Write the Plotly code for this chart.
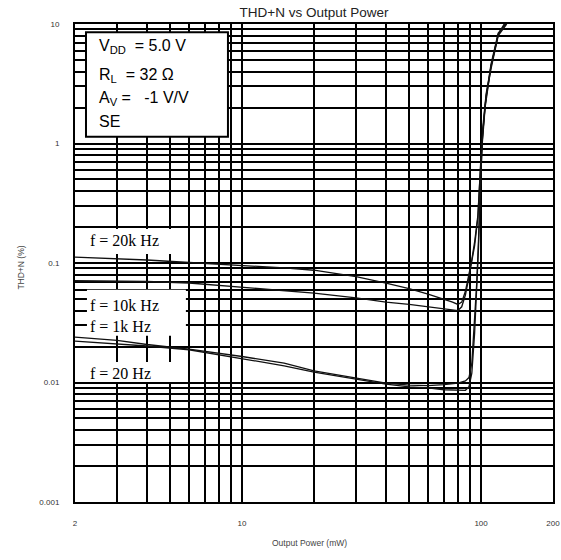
import plotly.graph_objects as go

# THD+N (%) vs output power (mW)
power_20k = [2, 3, 4, 6, 10, 15, 20, 30, 40, 50, 60, 70, 76, 80, 83, 86, 88, 91, 94, 97, 100, 104, 110, 118, 125]
thd_20k = [0.112, 0.109, 0.106, 0.101, 0.096, 0.091, 0.087, 0.077, 0.068, 0.061, 0.055, 0.05, 0.047, 0.045,
           0.047, 0.058, 0.072, 0.1, 0.15, 0.25, 0.75, 2.0, 4.4, 8.2, 10]

power_10k = [2, 3, 4, 6, 10, 15, 20, 30, 40, 50, 60, 70, 76, 80, 83, 86, 88, 91, 94, 97, 100, 104, 110, 118, 127]
thd_10k = [0.071, 0.071, 0.07, 0.068, 0.063, 0.059, 0.056, 0.051, 0.047, 0.045, 0.043, 0.041, 0.04, 0.04,
           0.043, 0.054, 0.068, 0.095, 0.14, 0.24, 0.8, 2.1, 4.6, 8.4, 10]

power_1k = [2, 3, 4, 6, 10, 15, 20, 30, 40, 50, 60, 70, 80, 86, 89, 91.5, 94, 96, 97.5, 99, 101.5, 105, 110, 118, 126]
thd_1k = [0.024, 0.0225, 0.0208, 0.019, 0.0165, 0.0145, 0.0125, 0.0109, 0.0099, 0.0095, 0.0094, 0.0096,
          0.0099, 0.0103, 0.011, 0.0145, 0.032, 0.07, 0.15, 0.4, 1.3, 2.6, 4.4, 8.2, 10]

power_20 = [2, 3, 4, 6, 10, 15, 20, 30, 40, 50, 60, 70, 80, 86, 89, 91.5, 94, 96, 97.5, 99, 101.5, 105, 110, 118, 128]
thd_20 = [0.0222, 0.021, 0.0202, 0.0188, 0.0157, 0.0138, 0.0122, 0.0106, 0.0097, 0.0092, 0.009, 0.0087,
          0.0086, 0.0086, 0.0092, 0.012, 0.026, 0.06, 0.13, 0.36, 1.2, 2.5, 4.2, 8.0, 10]

x_ticks = [2, 10, 100, 200]
y_ticks = [0.001, 0.01, 0.1, 1, 10]
x_ticktext = ["2", "10", "100", "200"]
y_ticktext = ["0.001", "0.01", "0.1", "1", "10"]

# log grid lines between the labelled ticks
x_minor = [k for k in range(3, 10)] + [k * 10 for k in range(2, 10)]
y_minor = [k * 10 ** d for d in range(-3, 1) for k in range(2, 10)]

conditions = ["V<sub>DD</sub>  = 5.0 V", "R<sub>L</sub>  = 32 Ω", "A<sub>V</sub> =   -1 V/V", "SE"]
curve_labels = ["f = 20k Hz", "f = 10k Hz", "f = 1k Hz", "f = 20 Hz"]

SANS = "Liberation Sans, Arial, sans-serif"
SERIF = "Liberation Serif, Times New Roman, serif"

fig = go.Figure()
for xs, ys in [(power_20k, thd_20k), (power_10k, thd_10k), (power_1k, thd_1k), (power_20, thd_20)]:
    fig.add_trace(go.Scatter(x=xs, y=ys, mode="lines", line=dict(color="#111111", width=1.3),
                             showlegend=False, hoverinfo="skip"))

axis_common = dict(
    type="log", showgrid=True, gridcolor="black", gridwidth=1.5,
    showline=True, mirror=True, linecolor="black", linewidth=2,
    ticks="", zeroline=False, automargin=False,
    tickfont=dict(family=SANS, size=8, color="#333333"),
)
fig.update_xaxes(range=[0.30103, 2.30103], tickmode="array", tickvals=x_ticks, ticktext=x_ticktext,
                 ticklabelstandoff=12,
                 minor=dict(tickmode="array", tickvals=x_minor, showgrid=True, gridcolor="black",
                            gridwidth=1.5, ticks=""), **axis_common)
fig.update_yaxes(range=[-3, 1], tickmode="array", tickvals=y_ticks, ticktext=y_ticktext,
                 ticklabelstandoff=12,
                 minor=dict(tickmode="array", tickvals=y_minor, showgrid=True, gridcolor="black",
                            gridwidth=1.5, ticks=""), **axis_common)

shapes = [
    # conditions box
    dict(type="rect", xref="paper", yref="paper", x0=0.023, x1=0.32, y0=0.764, y1=0.983,
         fillcolor="white", line=dict(color="black", width=2), layer="above"),
    # white patches behind curve labels
    dict(type="rect", xref="paper", yref="paper", x0=0.025, x1=0.232, y0=0.519, y1=0.571,
         fillcolor="white", line=dict(width=0), layer="above"),
    dict(type="rect", xref="paper", yref="paper", x0=0.025, x1=0.232, y0=0.348, y1=0.444,
         fillcolor="white", line=dict(width=0), layer="above"),
    dict(type="rect", xref="paper", yref="paper", x0=0.025, x1=0.232, y0=0.251, y1=0.293,
         fillcolor="white", line=dict(width=0), layer="above"),
]

annotations = []
for txt, yy in zip(conditions, [0.952, 0.893, 0.845, 0.795]):
    annotations.append(dict(text=txt, xref="paper", yref="paper", x=0.046, y=yy, xanchor="left",
                            yanchor="middle", showarrow=False,
                            font=dict(family=SANS, size=16, color="black")))
for txt, yy in zip(curve_labels, [0.548, 0.412, 0.368, 0.268]):
    annotations.append(dict(text=txt, xref="paper", yref="paper", x=0.027, y=yy, xanchor="left",
                            yanchor="middle", showarrow=False,
                            font=dict(family=SERIF, size=16, color="black")))
annotations.append(dict(text="THD+N (%)", xref="paper", yref="paper", x=-0.128, y=0.49, textangle=-90,
                        showarrow=False, font=dict(family=SANS, size=8.5, color="#444444")))
annotations.append(dict(text="Output Power (mW)", xref="paper", yref="paper", x=0.49, y=-0.1,
                        showarrow=False, font=dict(family=SANS, size=8.5, color="#444444")))

fig.update_layout(
    width=561, height=560,
    margin=dict(l=75, r=8, t=24, b=58),
    paper_bgcolor="white", plot_bgcolor="white",
    title=dict(text="THD+N vs Output Power", x=0.5, xref="paper", y=1 - 12 / 560, yanchor="middle",
               font=dict(family=SANS, size=13.5, color="#222222")),
    shapes=shapes, annotations=annotations,
)

# drop the page's default body margin so the figure sits at the window corner
fig.write_html("out.html", config={"displayModeBar": False},
               post_script="document.body.style.margin='0';")
